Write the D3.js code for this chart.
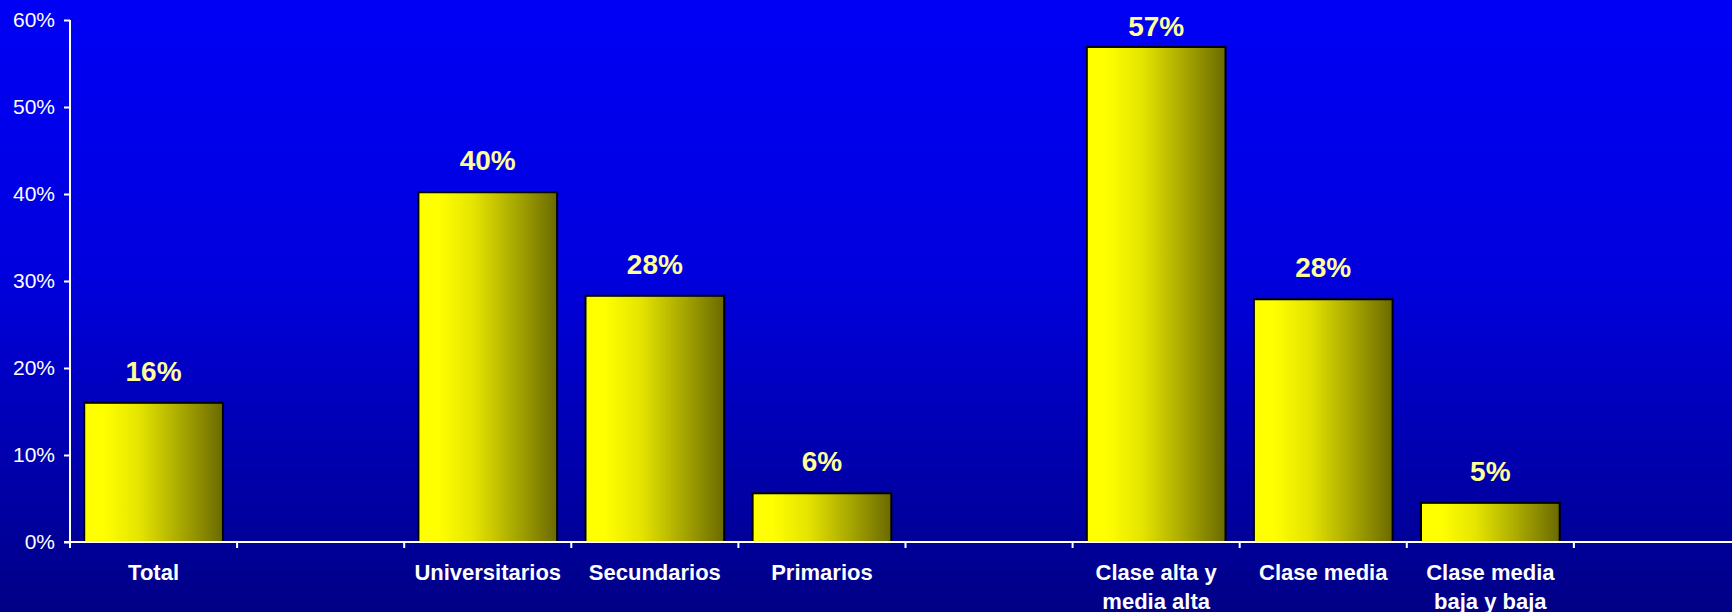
<!DOCTYPE html>
<html>
<head>
<meta charset="utf-8">
<script src="https://cdn.jsdelivr.net/npm/d3@7"></script>
<style>
    html, body { margin: 0; padding: 0; background: #000088; }
    svg { display: block; }
</style>
</head>
<body>
<div id="chart"></div>
<script>
// Data
const categories = ["Total", "", "Universitarios", "Secundarios", "Primarios", "",
    "Clase alta y\nmedia alta", "Clase media", "Clase media\nbaja y baja", ""];
const values = [16, null, 40.2, 28.3, 5.6, null, 56.9, 27.9, 4.5, null];
const yTicks = [0, 10, 20, 30, 40, 50, 60];

// Size
const w = 1732, h = 612;
const m = { top: 20, left: 70, bottom: 70 };
const y0 = h - m.bottom;
const step = 167.1;
const font = "'Liberation Sans', Arial, sans-serif";

const svg = d3.select("#chart")
    .append("svg")
    .attr("width", w)
    .attr("height", h);

// Gradients
const defs = svg.append("defs");
const bgGrad = defs.append("linearGradient")
    .attr("id", "bg").attr("x1", 0).attr("y1", 0).attr("x2", 0).attr("y2", 1);
bgGrad.append("stop").attr("offset", 0).attr("stop-color", "#0000f6");
bgGrad.append("stop").attr("offset", 0.45).attr("stop-color", "#0000de");
bgGrad.append("stop").attr("offset", 1).attr("stop-color", "#000086");

const barGrad = defs.append("linearGradient")
    .attr("id", "bar").attr("x1", 0).attr("y1", 0).attr("x2", 1).attr("y2", 0);
barGrad.append("stop").attr("offset", 0).attr("stop-color", "#ffff00");
barGrad.append("stop").attr("offset", 0.14).attr("stop-color", "#ffff00");
barGrad.append("stop").attr("offset", 0.4).attr("stop-color", "#e4e400");
barGrad.append("stop").attr("offset", 0.7).attr("stop-color", "#a8a800");
barGrad.append("stop").attr("offset", 1).attr("stop-color", "#6a6a00");

// Background
svg.append("rect")
    .attr("width", w)
    .attr("height", h)
    .attr("fill", "url(#bg)");

// Scales
const idx = d3.range(categories.length);
const xCat = d3.scaleBand().domain(idx).range([m.left, m.left + step * categories.length]).padding(0);
const x = d3.scaleBand().domain(idx).range(xCat.range()).paddingInner(0.17).paddingOuter(0.085);
const y = d3.scaleLinear().domain([0, 60]).range([y0, m.top]);

// Bars
const data = idx.filter((i) => values[i] != null);
svg.append("g")
    .selectAll("rect")
    .data(data)
    .join("rect")
    .attr("x", (i) => x(i))
    .attr("y", (i) => y(values[i]))
    .attr("width", x.bandwidth())
    .attr("height", (i) => y0 - y(values[i]))
    .attr("fill", "url(#bar)")
    .attr("stroke", "#000")
    .attr("stroke-width", 2);

// Value labels (kept inside the plot area at the top)
svg.append("g")
    .selectAll("text")
    .data(data)
    .join("text")
    .attr("x", (i) => xCat(i) + xCat.bandwidth() / 2)
    .attr("y", (i) => Math.max(y(values[i]) - 22, m.top + 16))
    .attr("text-anchor", "middle")
    .style("font-family", font)
    .style("font-weight", "bold")
    .style("font-size", "28px")
    .attr("fill", "#ffff99")
    .text((i) => Math.round(values[i]) + "%");

// Y-axis
const yAxis = svg.append("g")
    .attr("transform", `translate(${m.left}, 0)`)
    .call(d3.axisLeft(y).tickValues(yTicks).tickSize(6).tickPadding(9).tickFormat((d) => d + "%"));
yAxis.select(".domain").attr("stroke", "#fff").attr("stroke-width", 2)
    .attr("d", `M0,${m.top}V${y0 + 6}`);
yAxis.selectAll(".tick line").attr("stroke", "#fff").attr("stroke-width", 2);
yAxis.selectAll(".tick text")
    .attr("fill", "#fff")
    .style("font-family", font)
    .style("font-size", "21px");

// X-axis line and category boundary ticks
svg.append("line")
    .attr("x1", m.left - 6).attr("x2", w)
    .attr("y1", y0).attr("y2", y0)
    .attr("stroke", "#fff").attr("stroke-width", 2);
svg.append("g")
    .selectAll("line")
    .data(idx)
    .join("line")
    .attr("x1", (i) => xCat(i) + xCat.bandwidth())
    .attr("x2", (i) => xCat(i) + xCat.bandwidth())
    .attr("y1", y0).attr("y2", y0 + 6)
    .attr("stroke", "#fff").attr("stroke-width", 2);

// Category labels
svg.append("g")
    .selectAll("text")
    .data(idx)
    .join("text")
    .attr("text-anchor", "middle")
    .attr("fill", "#fff")
    .style("font-family", font)
    .style("font-weight", "bold")
    .style("font-size", "22px")
    .each(function (i) {
        const t = d3.select(this);
        const cx = xCat(i) + xCat.bandwidth() / 2;
        categories[i].split("\n").forEach((line, k) => {
            t.append("tspan")
                .attr("x", cx)
                .attr("y", y0 + 38 + k * 29)
                .text(line);
        });
    });
</script>
</body>
</html>
